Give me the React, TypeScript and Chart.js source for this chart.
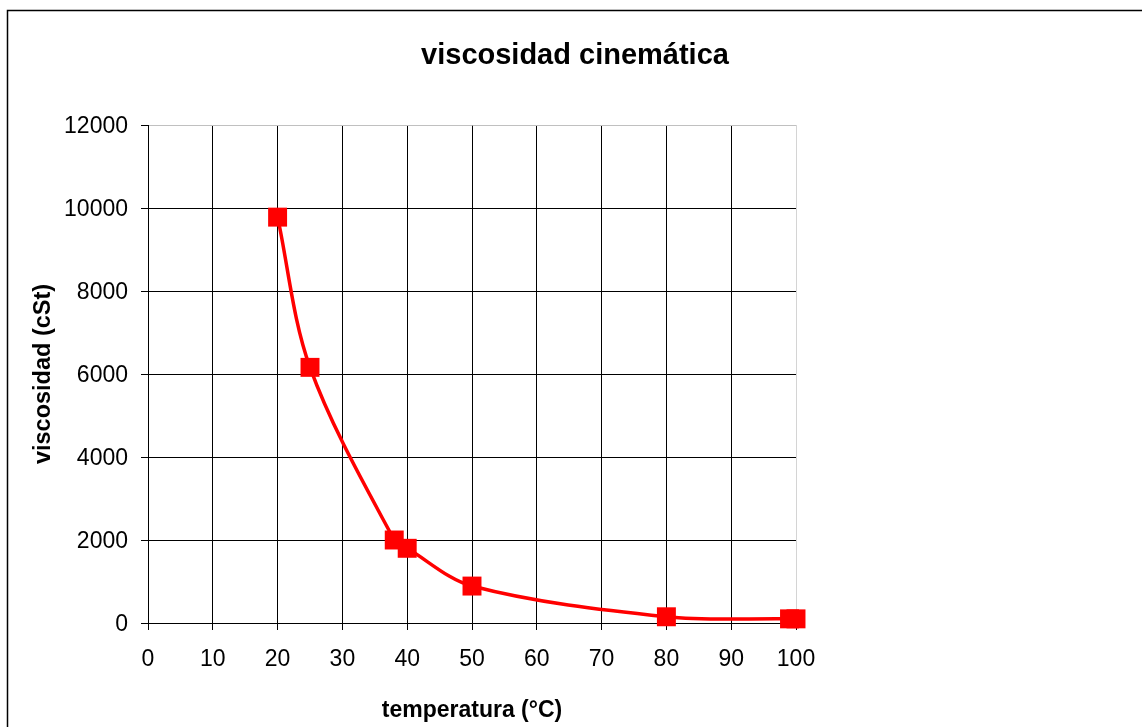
import React, { useEffect, useRef } from "react";
import { Chart, registerables } from "chart.js";

Chart.register(...registerables);

const temperatures = [20, 25, 38, 40, 50, 80, 99, 100];
const viscosities = [9780, 6160, 2000, 1800, 890, 150, 100, 100];
const xTickValues = [0, 10, 20, 30, 40, 50, 60, 70, 80, 90, 100];
const yTickValues = [0, 2000, 4000, 6000, 8000, 10000, 12000];
const chartTitle = "viscosidad cinemática";
const xAxisTitle = "temperatura (°C)";
const yAxisTitle = "viscosidad (cSt)";

const FONT = "'Liberation Sans', Arial, Helvetica, sans-serif";

const outerBorder = {
  id: "outerBorder",
  beforeDraw(chart: any) {
    const ctx = chart.ctx;
    ctx.save();
    ctx.fillStyle = "#ffffff";
    ctx.fillRect(0, 0, chart.width, chart.height);
    ctx.strokeStyle = "#000000";
    ctx.lineWidth = 1.5;
    ctx.strokeRect(7.5, 10.5, chart.width + 20, chart.height + 20);
    ctx.restore();
  },
};

export default function App() {
  const canvasRef = useRef<HTMLCanvasElement | null>(null);

  useEffect(() => {
    const canvas = canvasRef.current;
    if (!canvas) return;
    const points = temperatures.map((t, i) => ({ x: t, y: viscosities[i] }));
    const chart = new Chart(canvas, {
      type: "line",
      data: {
        datasets: [
          {
            data: points,
            borderColor: "#ff0000",
            backgroundColor: "#ff0000",
            borderWidth: 3.5,
            tension: 0.33,
            pointStyle: "rect",
            pointRadius: 13.4,
            pointHoverRadius: 13.4,
            pointBorderWidth: 0,
            pointBackgroundColor: "#ff0000",
            pointBorderColor: "#ff0000",
            clip: false as any,
          },
        ],
      },
      plugins: [outerBorder],
      options: {
        responsive: false,
        animation: false,
        devicePixelRatio: 1,
        layout: { padding: { left: 8, right: 0, top: 0, bottom: 0 } },
        plugins: {
          legend: { display: false },
          tooltip: { enabled: false },
          title: {
            display: true,
            text: chartTitle,
            color: "#000000",
            font: { family: FONT, size: 29, weight: "bold", lineHeight: 1.2 },
            padding: { top: 38.6, bottom: 51.6 },
          },
        },
        scales: {
          x: {
            type: "linear",
            min: 0,
            max: 100,
            afterBuildTicks: (s: any) => {
              s.ticks = xTickValues.map((v) => ({ value: v }));
            },
            afterFit: (s: any) => {
              s.height = 104;
            },
            ticks: {
              callback: (v: any) => String(v),
              font: { family: FONT, size: 23, lineHeight: 1.2 },
              color: "#000000",
              padding: 16,
              maxRotation: 0,
              autoSkip: false,
            },
            grid: {
              color: (c: any) => (c.tick && c.tick.value === 100 ? "#d4d4d4" : "#000000"),
              tickColor: "#000000",
              tickLength: 7,
              lineWidth: 1,
            },
            border: { color: "#000000", width: 1 },
            title: {
              display: true,
              text: xAxisTitle,
              color: "#000000",
              font: { family: FONT, size: 23, weight: "bold", lineHeight: 1 },
              padding: { top: 0, bottom: 5 },
            },
          },
          y: {
            type: "linear",
            min: 0,
            max: 12000,
            afterBuildTicks: (s: any) => {
              s.ticks = yTickValues.map((v) => ({ value: v }));
            },
            afterFit: (s: any) => {
              s.width = 140;
            },
            ticks: {
              callback: (v: any) => String(v),
              font: { family: FONT, size: 23, lineHeight: 1.2 },
              color: "#000000",
              padding: 13,
              labelOffset: 2,
            },
            grid: {
              color: (c: any) => (c.tick && c.tick.value === 12000 ? "#c0c0c0" : "#000000"),
              tickColor: "#000000",
              tickLength: 7,
              lineWidth: 1,
            },
            border: { color: "#000000", width: 1 },
            title: {
              display: true,
              text: yAxisTitle,
              color: "#000000",
              font: { family: FONT, size: 23.5, weight: "bold", lineHeight: 1 },
              padding: { top: 24, bottom: 0 },
            },
          },
          yr: {
            type: "linear",
            position: "right",
            display: true,
            grid: { display: false },
            ticks: { display: false },
            border: { display: false },
            afterFit: (s: any) => {
              s.width = 346;
            },
          },
        },
      } as any,
    });
    return () => chart.destroy();
  }, []);

  return (
    <div style={{ position: "absolute", left: 0, top: 0, width: 1142, height: 727 }}>
      <canvas ref={canvasRef} width={1142} height={727} style={{ display: "block" }} />
    </div>
  );
}
